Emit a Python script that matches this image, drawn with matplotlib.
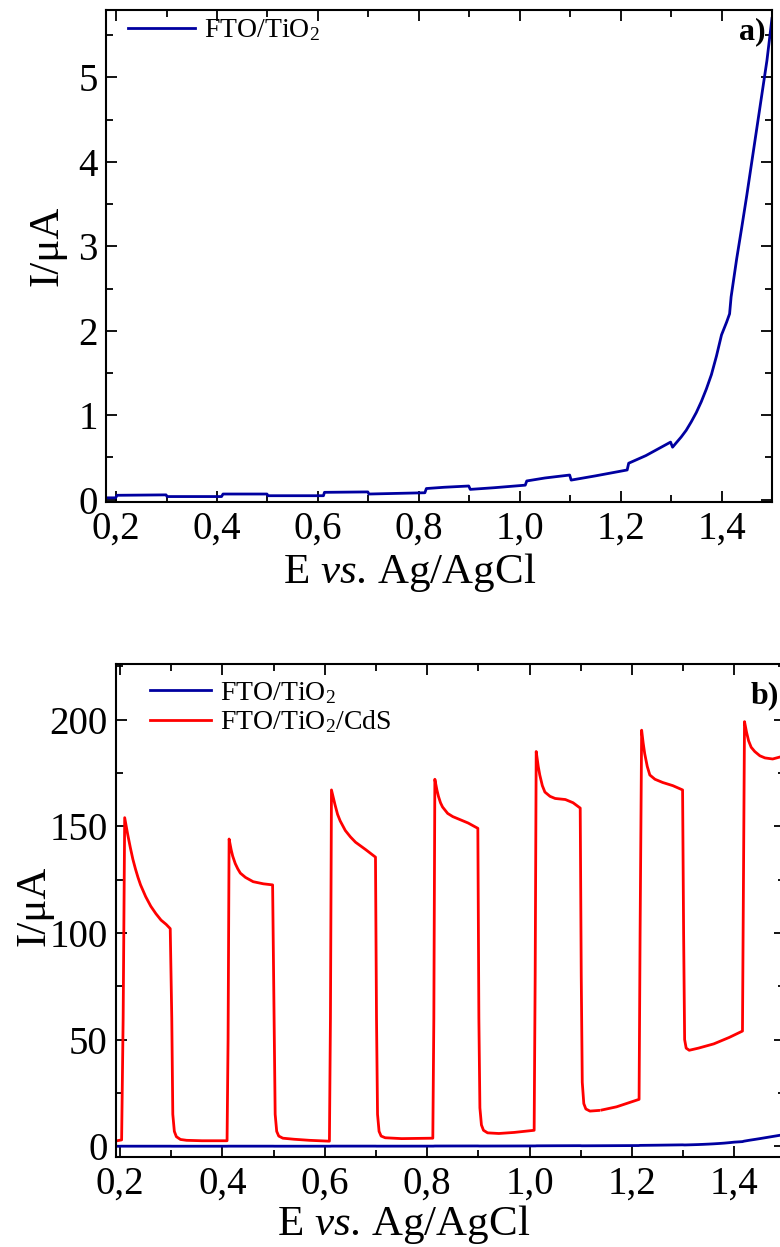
import numpy as np
import matplotlib
matplotlib.use("Agg")
from matplotlib import pyplot as plt
from matplotlib.ticker import MultipleLocator, FuncFormatter

plt.rcParams['font.family'] = ['Liberation Serif', 'DejaVu Serif']
plt.rcParams['mathtext.fontset'] = 'custom'
plt.rcParams['mathtext.rm'] = 'Liberation Serif'
plt.rcParams['mathtext.it'] = 'Liberation Serif:italic'
plt.rcParams['mathtext.bf'] = 'Liberation Serif:bold'

# FTO/TiO2 photocurrent under chopped light (uA)
e_tio2 = [0.18, 0.199, 0.202, 0.299, 0.301, 0.409, 0.412, 0.499, 0.501, 0.611, 0.613, 0.699, 0.701,
          0.812, 0.815, 0.85, 0.899, 0.902, 0.95, 1.011, 1.014, 1.05, 1.099, 1.102, 1.15, 1.213, 1.216,
          1.25, 1.299, 1.303, 1.31, 1.32, 1.33, 1.34, 1.35, 1.36, 1.37, 1.38, 1.39, 1.40, 1.41,
          1.416, 1.419, 1.43, 1.44, 1.45, 1.46, 1.47, 1.48, 1.49, 1.50]
i_tio2 = [0.02, 0.02, 0.05, 0.055, 0.035, 0.035, 0.065, 0.065, 0.045, 0.045, 0.085, 0.09, 0.065,
          0.08, 0.13, 0.145, 0.16, 0.12, 0.14, 0.17, 0.22, 0.255, 0.29, 0.23, 0.28, 0.35, 0.43,
          0.52, 0.68, 0.62, 0.67, 0.74, 0.82, 0.92, 1.03, 1.16, 1.31, 1.48, 1.7, 1.95, 2.1,
          2.2, 2.4, 2.85, 3.22, 3.6, 4.0, 4.4, 4.8, 5.2, 5.7]

# FTO/TiO2/CdS photocurrent under chopped light (uA)
e_cds = [0.192, 0.203, 0.206, 0.209, 0.212, 0.215, 0.22, 0.225, 0.23, 0.235, 0.24, 0.25, 0.26,
         0.27, 0.28, 0.29, 0.298,
         0.301, 0.303, 0.306, 0.31, 0.318, 0.33, 0.36, 0.409,
         0.411, 0.413, 0.417, 0.42, 0.425, 0.43, 0.435, 0.445, 0.46, 0.48, 0.498,
         0.501, 0.503, 0.506, 0.51, 0.518, 0.54, 0.57, 0.609,
         0.611, 0.613, 0.617, 0.62, 0.625, 0.63, 0.64, 0.65, 0.66, 0.68, 0.699,
         0.701, 0.703, 0.706, 0.71, 0.718, 0.75, 0.79, 0.811,
         0.813, 0.815, 0.819, 0.822, 0.826, 0.83, 0.84, 0.85, 0.86, 0.88, 0.899,
         0.901, 0.903, 0.906, 0.91, 0.918, 0.94, 0.97, 1.009,
         1.011, 1.013, 1.017, 1.02, 1.025, 1.03, 1.04, 1.05, 1.07, 1.085, 1.099,
         1.101, 1.103, 1.106, 1.11, 1.118, 1.135, 1.137, 1.141, 1.17, 1.214,
         1.216, 1.219, 1.222, 1.225, 1.23, 1.235, 1.245, 1.26, 1.28, 1.299,
         1.301, 1.303, 1.306, 1.312, 1.33, 1.36, 1.39, 1.416,
         1.418, 1.42, 1.424, 1.428, 1.433, 1.44, 1.45, 1.46, 1.475, 1.49, 1.5]
i_cds = [2.5, 3, 60, 154, 150, 146, 140, 134.5, 130, 126, 122.5, 117, 112.5,
         109, 106, 104, 102,
         60, 15, 7, 4.5, 3.2, 2.8, 2.6, 2.6,
         50, 144, 139, 136, 132.5, 130, 128, 126, 124, 123, 122.5,
         60, 15, 7, 4.8, 3.8, 3.3, 2.8, 2.4,
         60, 167, 163, 160, 155.5, 152.5, 148, 145, 142.5, 139, 135.5,
         60, 15, 7, 4.8, 4, 3.6, 3.7, 3.8,
         60, 172, 167, 164, 161, 159, 156, 154.5, 153.5, 151.5, 149,
         60, 18, 10, 7.5, 6.3, 6, 6.5, 7.5,
         80, 185, 178, 174, 169, 166, 164, 163, 162.5, 161, 158.5,
         80, 30, 20, 17.5, 16.5, 16.8, np.nan, 17, 18.5, 22,
         100, 195, 189, 184, 178, 174, 172, 170.5, 169, 167,
         100, 50, 46, 45, 46, 48, 51, 54,
         130, 199, 194, 190, 187, 185, 183, 182, 181.5, 182.5, 183]

blue = '#0000a0'
red = '#ff0000'
comma = FuncFormatter(lambda v, p: f'{v:.1f}'.replace('.', ','))
intfmt = FuncFormatter(lambda v, p: f'{v:.0f}')


def style(ax, ymaj, ymin):
    for s in ax.spines.values():
        s.set_linewidth(1.5)
    ax.xaxis.set_major_locator(MultipleLocator(0.2))
    ax.xaxis.set_minor_locator(MultipleLocator(0.1))
    ax.yaxis.set_major_locator(MultipleLocator(ymaj))
    ax.yaxis.set_minor_locator(MultipleLocator(ymin))
    ax.xaxis.set_major_formatter(comma)
    ax.yaxis.set_major_formatter(intfmt)
    ax.tick_params(which='both', direction='in', top=True, right=True, width=1.3,
                   labelsize=28, pad=6)
    ax.tick_params(which='major', length=8)
    ax.tick_params(which='minor', length=5)


fig = plt.figure(figsize=(7.8, 12.47), dpi=100)

# panel a
ax1 = fig.add_axes([0.1359, 0.5974, 0.8538, 0.3946])
ax1.plot(e_tio2, i_tio2, color=blue, lw=2.0, label='FTO/TiO$_2$')
ax1.set_xlim(0.18, 1.5)
ax1.set_ylim(-0.03, 5.8)
style(ax1, 1, 0.5)
ax1.set_xlabel('E $\\it{vs}$. Ag/AgCl', fontsize=31)
ax1.set_ylabel('I/\u03bcA', fontsize=31)
ax1.xaxis.set_label_coords(0.456, -0.1)
ax1.yaxis.set_label_coords(-0.06, 0.52)
ax1.text(0.99, 0.985, 'a)', transform=ax1.transAxes, ha='right', va='top',
         fontsize=23, fontweight='bold')
ax1.legend(loc='upper left', bbox_to_anchor=(0.033, 0.985), frameon=False, fontsize=20,
           handlelength=2.4, handletextpad=0.35, borderpad=0, borderaxespad=0)

# panel b
ax2 = fig.add_axes([0.1487, 0.0722, 0.8583, 0.3953])
ax2.plot(e_tio2, i_tio2, color=blue, lw=2.0, label='FTO/TiO$_2$')
ax2.plot(e_cds, i_cds, color=red, lw=2.0, label='FTO/TiO$_2$/CdS')
ax2.set_xlim(0.192, 1.5)
ax2.set_ylim(-5, 226)
style(ax2, 50, 25)
ax2.set_xlabel('E $\\it{vs}$. Ag/AgCl', fontsize=31)
ax2.set_ylabel('I/\u03bcA', fontsize=31)
ax2.xaxis.set_label_coords(0.43, -0.094)
ax2.yaxis.set_label_coords(-0.093, 0.51)
ax2.text(0.99, 0.965, 'b)', transform=ax2.transAxes, ha='right', va='top',
         fontsize=23, fontweight='bold')
ax2.legend(loc='upper left', bbox_to_anchor=(0.051, 0.968), frameon=False, fontsize=20,
           handlelength=2.2, handletextpad=0.3, borderpad=0, borderaxespad=0,
           labelspacing=0.1)

fig.savefig('out.png', dpi=100)
